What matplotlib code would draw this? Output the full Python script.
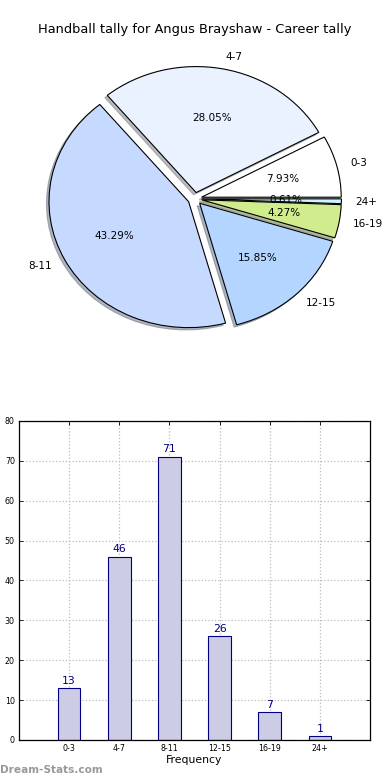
import matplotlib
matplotlib.use("Agg")
import matplotlib.pyplot as plt

categories = ["0-3", "4-7", "8-11", "12-15", "16-19", "24+"]
counts = [13, 46, 71, 26, 7, 1]
pie_colors = ["#FFFFFF", "#EAF1FF", "#C6D9FF", "#B3D5FF", "#D0EC8C", "#CCF5FF"]
yticks = [0, 10, 20, 30, 40, 50, 60, 70, 80]

fig = plt.figure(figsize=(3.9, 7.8), dpi=100)
fig.patch.set_facecolor("white")

# Pie
axp = fig.add_axes([0.052, 0.5433, 0.895, 0.4038])
wedges, texts, autotexts = axp.pie(
    counts, labels=categories, colors=pie_colors, explode=[0.05] * len(counts),
    autopct="%1.2f%%", shadow={"ox": -0.013, "oy": -0.013, "shade": 0.5},
    startangle=0,
    wedgeprops=dict(edgecolor="black", linewidth=0.8),
    textprops=dict(fontsize=7.5))
axp.set_aspect("auto")
axp.set_xlim(-1.25, 1.25)
axp.set_ylim(-1.25, 1.25)
axp.set_axis_off()
fig.text(0.5, 1 - 30 / 780, "Handball tally for Angus Brayshaw - Career tally",
         ha="center", va="center", fontsize=9.4)

# Bars
axb = fig.add_axes([0.0487, 0.0513, 0.9, 0.409])
x = list(range(len(categories)))
bars = axb.bar(x, counts, width=0.45, color="#CCCCE4", edgecolor="#000080",
               linewidth=0.8, align="center", zorder=2)
for xi, v in zip(x, counts):
    axb.text(xi, v + 0.6, str(v), ha="center", va="bottom", color="#000080",
             fontsize=7.8)
axb.set_xlim(-1, 6)
axb.set_ylim(0, 80)
axb.set_xticks(x)
axb.set_xticklabels(categories, fontsize=5.7)
axb.set_yticks(yticks)
axb.set_yticklabels([str(t) for t in yticks], fontsize=5.7)
axb.tick_params(direction="in", top=True, right=True, length=3, width=0.6, pad=3)
axb.grid(True, linestyle=":", color="#BBBBBB", linewidth=0.9, zorder=0)
axb.set_axisbelow(True)
axb.set_xlabel("Frequency", fontsize=7.8, labelpad=1)
for s in axb.spines.values():
    s.set_linewidth(0.9)

fig.text(0.0, 1 - 770 / 780, "Dream-Stats.com", ha="left", va="center",
         fontsize=7.6, color="#999999", fontweight="bold")

fig.savefig("out.png", dpi=100, facecolor="white")
